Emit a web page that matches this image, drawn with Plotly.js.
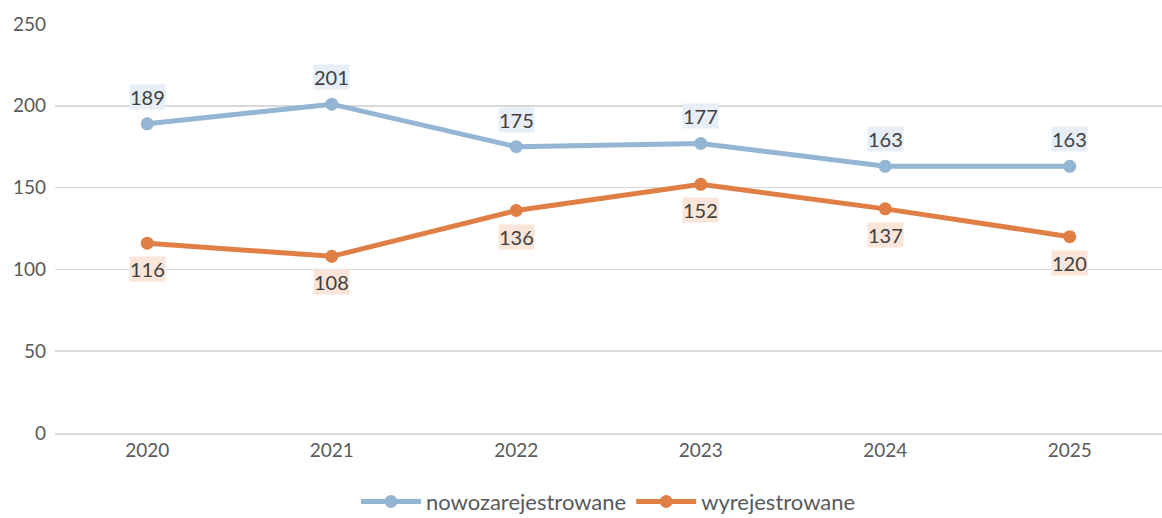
<!DOCTYPE html>
<html><head><meta charset="utf-8">
<script src="https://cdn.plot.ly/plotly-3.0.1.min.js"></script>
<style>html,body{margin:0;padding:0;background:#fff}#chart{width:1162px;height:518px}</style>
</head><body><div id="chart"></div>
<script>
const years = ['2020','2021','2022','2023','2024','2025'];
const nowo = [189, 201, 175, 177, 163, 163];
const wyrej = [116, 108, 136, 152, 137, 120];
const blue = '#94b5d4', orange = '#e07f45';
const font = 'Lato, "Open Sans", sans-serif';
const traces = [
  {x: years, y: nowo, name: 'nowozarejestrowane', mode: 'lines+markers', type: 'scatter',
   line: {color: blue, width: 5}, marker: {color: blue, size: 13}},
  {x: years, y: wyrej, name: 'wyrejestrowane', mode: 'lines+markers', type: 'scatter',
   line: {color: orange, width: 5}, marker: {color: orange, size: 13}}
];
const ann = [];
years.forEach((yr, i) => {
  ann.push({x: i, y: nowo[i], text: String(nowo[i]), showarrow: false, yshift: 27,
    bgcolor: '#e8eef6', font: {family: font, size: 20, color: '#404040'}, borderpad: 0});
  ann.push({x: i, y: wyrej[i], text: String(wyrej[i]), showarrow: false, yshift: -26,
    bgcolor: '#fbe5d8', font: {family: font, size: 20, color: '#404040'}, borderpad: 0});
});
const layout = {
  width: 1162, height: 518,
  margin: {l: 55, r: 0, t: 24, b: 85, autoexpand: false},
  paper_bgcolor: '#fff', plot_bgcolor: '#fff',
  font: {family: font, size: 18, color: '#595959'},
  xaxis: {type: 'category', range: [-0.5, 5.5], showgrid: false, zeroline: false,
    showline: true, linecolor: '#d9d9d9', linewidth: 1.5, ticks: '', tickfont: {size: 19, color: '#595959'}},
  yaxis: {range: [0, 250], dtick: 50, showgrid: true, gridcolor: '#d9d9d9', gridwidth: 1.5,
    zeroline: false, showline: false, ticks: '', ticklabelstandoff: 8, tickfont: {size: 19, color: '#595959'}},
  showlegend: true,
  legend: {orientation: 'h', x: 0.5, xanchor: 'center', y: -0.168, yanchor: 'middle',
    font: {size: 22, color: '#595959'}, itemwidth: 60},
  annotations: ann
};
Plotly.newPlot('chart', traces, layout, {displayModeBar: false, staticPlot: true});
</script></body></html>
